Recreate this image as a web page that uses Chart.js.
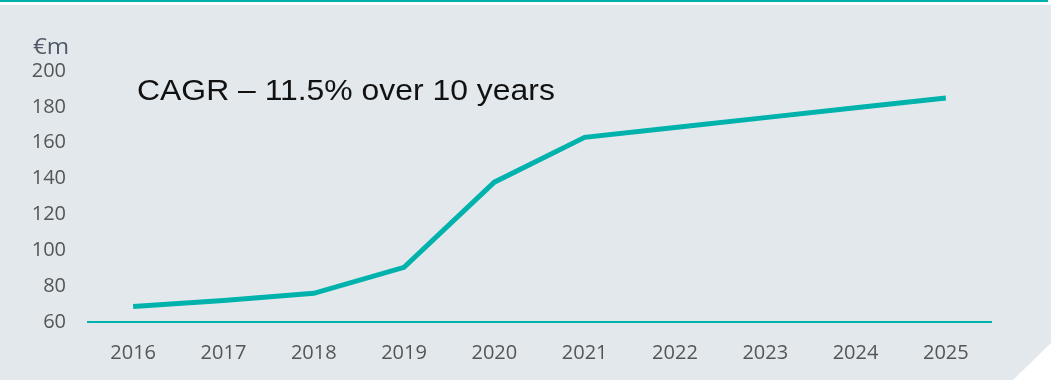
<!DOCTYPE html>
<html lang="en">
<head>
    <meta charset="UTF-8">
    <title>Revenue growth</title>
    <script src="https://cdn.jsdelivr.net/npm/chart.js"></script>
    <style>
        html, body {
            margin: 0;
            padding: 0;
            background: #ffffff;
        }
        .panel {
            position: relative;
            width: 1051px;
            height: 380px;
            overflow: hidden;
        }
        /* thin teal rule along the top */
        .panel .rule {
            position: absolute;
            left: 0;
            top: 0;
            width: 1048px;
            height: 2px;
            background: #00b2ac;
        }
        /* grey card with the bottom-right corner cut off */
        .panel .card {
            position: absolute;
            left: 0;
            top: 5px;
            width: 1051px;
            height: 375px;
            background: #e3e8ec;
            clip-path: polygon(0 0, 100% 0, 100% 338px, 1013px 100%, 0 100%);
        }
        .panel canvas {
            position: absolute;
            left: 0;
            top: 0;
        }
        .unit {
            position: absolute;
            left: 33px;
            top: 30px;
            font-family: "Open Sans", sans-serif;
            font-size: 22px;
            color: #4f5a66;
            transform: scaleX(1.1);
            transform-origin: left top;
        }
        .note {
            position: absolute;
            left: 137px;
            top: 74px;
            font-family: "Liberation Sans", Arial, sans-serif;
            font-size: 29px;
            color: #111111;
            white-space: nowrap;
            transform: scaleX(1.1);
            transform-origin: left top;
        }
    </style>
</head>
<body>

<div class="panel">
    <div class="rule"></div>
    <div class="card"></div>
    <canvas id="growthChart" width="1051" height="380"></canvas>
    <div class="unit">€m</div>
    <div class="note">CAGR – 11.5% over 10 years</div>
</div>

<script>
    const years = ["2016", "2017", "2018", "2019", "2020", "2021", "2022", "2023", "2024", "2025"];
    const revenue = [68.7, 72, 76, 90.5, 138, 163, 168.5, 174, 179.5, 185];

    const teal = "#00b2ac";

    const ctx = document.getElementById("growthChart").getContext("2d");

    new Chart(ctx, {
        type: "line",
        data: {
            labels: years,
            datasets: [{
                data: revenue,
                borderColor: teal,
                borderWidth: 5,
                pointRadius: 0,
                tension: 0,
                fill: false
            }]
        },
        options: {
            responsive: false,
            animation: false,
            layout: {
                padding: { left: 0, right: 60, top: 71, bottom: 0 }
            },
            plugins: {
                legend: { display: false },
                tooltip: { enabled: false }
            },
            scales: {
                x: {
                    offset: true,
                    grid: { display: false, drawTicks: false },
                    border: { display: true, color: teal, width: 2 },
                    ticks: {
                        color: "#555555",
                        font: { family: "Open Sans", size: 20 },
                        padding: 19,
                        maxRotation: 0
                    },
                    afterFit: (scale) => { scale.height = 58; }
                },
                y: {
                    min: 60,
                    max: 200,
                    grid: { display: false, drawTicks: false },
                    border: { display: false },
                    ticks: {
                        stepSize: 20,
                        color: "#555555",
                        font: { family: "Open Sans", size: 20 },
                        padding: 22
                    },
                    afterFit: (scale) => { scale.width = 88; }
                }
            }
        }
    });
</script>

</body>
</html>
